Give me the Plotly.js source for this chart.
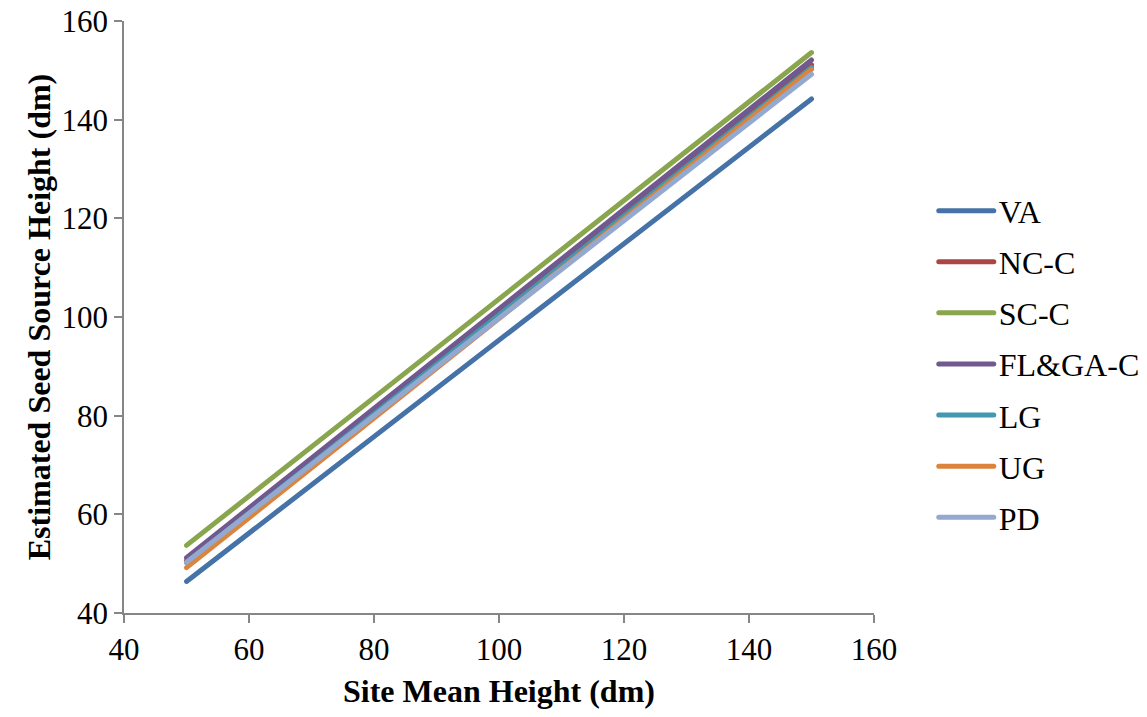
<!DOCTYPE html>
<html><head><meta charset="utf-8">
<script src="https://cdn.plot.ly/plotly-3.0.1.min.js"></script>
<style>
html,body{margin:0;padding:0;background:#fff}
#chart .js-line{stroke-linecap:round !important;}
</style>
</head><body>
<div id="chart" style="width:1147px;height:717px"></div>
<script>
const xValues = [50, 150];
const seriesNames = ["VA", "NC-C", "SC-C", "FL&GA-C", "LG", "UG", "PD"];
const VA = [46.4, 144.2];
const NCC = [50.6, 151.1];
const SCC = [53.7, 153.6];
const FLGAC = [51.2, 152.1];
const LG = [50.2, 150.6];
const UG = [49.2, 150.2];
const PD = [50.3, 149.2];
const seriesValues = [VA, NCC, SCC, FLGAC, LG, UG, PD];
const tickValues = [40, 60, 80, 100, 120, 140, 160];
const colors = ["#4572A7", "#AA4643", "#89A54E", "#71588F", "#4198AF", "#DB843D", "#93A9CF"];

const traces = seriesNames.map((n, i) => ({
  x: xValues, y: seriesValues[i], name: n, mode: "lines", type: "scatter",
  legendgroup: "g" + i,
  line: {color: colors[i], width: 5}
}));

const font = {family: '"Liberation Serif", "Times New Roman", serif', color: "#000"};
const axisCommon = {
  range: [40, 160], tickvals: tickValues, showgrid: false, zeroline: false,
  showline: true, linecolor: "#868686", linewidth: 1.5, ticks: "outside", ticklen: 8,
  tickcolor: "#868686", tickwidth: 1.5, tickfont: Object.assign({size: 31}, font)
};
Plotly.newPlot("chart", traces, {
  width: 1147, height: 717,
  margin: {l: 124, r: 273, t: 21, b: 104, autoexpand: false},
  paper_bgcolor: "#fff", plot_bgcolor: "#fff",
  font: Object.assign({size: 31}, font),
  showlegend: true,
  legend: {x: 1.0797, y: 0.42, xanchor: "left", yanchor: "middle", tracegroupgap: 6.5,
           itemwidth: 55, font: Object.assign({size: 32}, font)},
  xaxis: Object.assign({}, axisCommon, {
          title: {text: "<b>Site Mean Height (dm)</b>", font: Object.assign({size: 32}, font), standoff: 14}}),
  yaxis: Object.assign({}, axisCommon, {ticksuffix: "\u2009",
          title: {text: "<b>Estimated Seed Source Height (dm)</b>", font: Object.assign({size: 32}, font), standoff: 1}})
}, {displayModeBar: false});
</script>
</body></html>
